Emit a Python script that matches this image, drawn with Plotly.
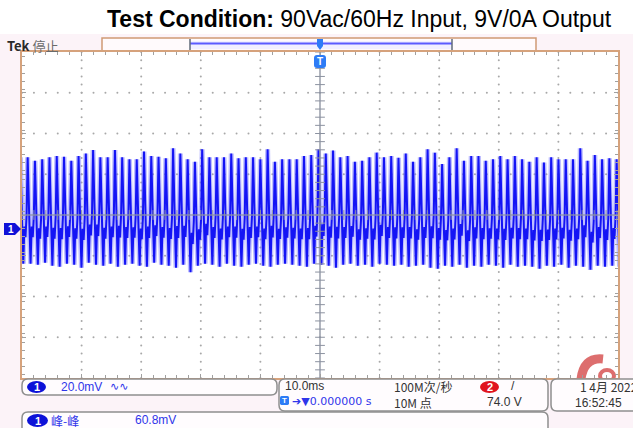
import plotly.graph_objects as go

W, H = 633, 428

# ---------------- data ----------------
# peak value of each ripple cycle, mV (82 cycles across the 100 ms screen)
peak_mv = [34.7, 33.0, 33.7, 34.7, 35.3, 35.0, 33.0, 35.3, 36.6, 38.3, 34.7, 34.7,
           38.3, 34.7, 33.7, 33.7, 37.5, 35.3, 35.0, 34.2, 39.1, 36.6, 33.7, 32.5,
           38.6, 34.7, 34.7, 34.7, 36.6, 34.2, 34.7, 34.7, 33.7, 38.6, 32.5, 33.7,
           33.7, 33.7, 35.3, 35.8, 38.6, 36.6, 38.0, 34.7, 35.3, 32.5, 33.0, 34.7,
           37.0, 34.7, 35.3, 34.5,
           36.6, 32.5, 34.7, 38.6, 37.0, 31.4, 34.7, 39.1, 33.0, 35.3, 35.3, 33.0,
           33.7, 35.3, 33.7, 35.3, 33.7, 32.5, 34.7, 32.1, 34.7, 33.7, 33.7, 33.7,
           39.1, 33.0, 35.8, 33.7, 34.2, 33.7]
# trough value of each ripple cycle, mV
trough_mv = [-17.5, -18.0, -17.0, -18.5, -19.0, -17.5, -18.0, -19.5, -17.0, -18.0, -18.5, -17.5,
             -19.0, -18.0, -17.5, -18.5, -19.0, -17.0, -18.0, -18.5, -19.5, -18.0, -21.7, -18.5,
             -17.5, -18.0, -19.0, -17.5, -18.5, -19.0, -18.0, -17.5, -18.5, -19.0, -18.0, -17.5,
             -18.0, -18.5, -19.0, -17.5, -18.0, -18.5, -19.5, -18.0, -17.5, -18.5, -18.0, -19.0,
             -17.5, -18.0, -18.5, -18.0,
             -19.0, -18.5, -18.0, -19.5, -20.0, -18.5, -19.0, -18.0, -19.5, -18.5, -19.0, -18.0,
             -18.5, -19.5, -18.0, -19.0, -18.5, -19.0, -20.0, -18.5, -19.0, -18.0, -19.5, -18.5,
             -19.0, -20.5, -18.5, -19.0, -18.5, -19.0]
first_peak_ms = -49.05   # time of the first visible peak
period_ms = 1.22         # ripple period
# shape of one ripple cycle: phase (fraction of period) and level (0 = trough, 1 = peak)
cycle_phase = [0.0, 0.12, 0.25, 0.40, 0.55, 0.70, 0.85]
cycle_level = [1.0, 0.55, 0.35, 0.0, 0.35, 0.25, 0.45]

mv_per_div = 20.0
ms_per_div = 10.0
centre_mv = 6.4          # value at the screen centre (ground marker sits below centre)

title_bold = "Test Condition:"
title_rest = " 90Vac/60Hz Input, 9V/0A Output"
ch1_scale = "20.0mV"
timebase = "10.0ms"
trig_pos = "0.000000 s"
sample_rate = "100M次/秒"
record_len = "10M 点"
trig_level = "74.0 V"
date_txt = "1 4月 2022"
time_txt = "16:52:45"
meas_name = "峰-峰"
meas_val = "60.8mV"

# ---------------- build trace ----------------
t, v = [], []
peaks_ext = [peak_mv[0]] + peak_mv
troughs_ext = [trough_mv[0]] + trough_mv
for k in range(-1, len(peak_mv)):
    P, Tr = peaks_ext[k + 1], troughs_ext[k + 1]
    t0 = first_peak_ms + k * period_ms
    for ph, lv in zip(cycle_phase, cycle_level):
        t.append(t0 + ph * period_ms)
        v.append(Tr + lv * (P - Tr))

xr = [-5 * ms_per_div, 5 * ms_per_div]
yr = [centre_mv - 4 * mv_per_div, centre_mv + 4 * mv_per_div]

# pixel helpers (margins are 0, so paper coords == figure fraction)
def px(x):
    return x / W

def py(y):
    return 1 - y / H

def rrect(x0, y0, x1, y1, r):
    pts = [("M", x0 + r, y0), ("L", x1 - r, y0), ("Q", x1, y0, x1, y0 + r),
           ("L", x1, y1 - r), ("Q", x1, y1, x1 - r, y1), ("L", x0 + r, y1),
           ("Q", x0, y1, x0, y1 - r), ("L", x0, y0 + r), ("Q", x0, y0, x0 + r, y0)]
    s = ""
    for p in pts:
        c = p[0]
        nums = p[1:]
        coords = []
        for i in range(0, len(nums), 2):
            coords.append(f"{px(nums[i]):.5f},{py(nums[i+1]):.5f}")
        s += c + " " + " ".join(coords) + " "
    return s + "Z"

def poly(points):
    s = "M " + " L ".join(f"{px(a):.5f},{py(b):.5f}" for a, b in points)
    return s + " Z"

fig = go.Figure()

# grid dots
gx, gy = [], []
for j in range(1, 8):
    yv = yr[0] + j * mv_per_div
    if j == 4:
        continue
    for i in range(0, 51):
        gx.append(xr[0] + i * ms_per_div / 5)
        gy.append(yv)
for i in range(1, 10):
    if i == 5:
        continue
    xv = xr[0] + i * ms_per_div
    for j in range(0, 41):
        gx.append(xv)
        gy.append(yr[0] + j * mv_per_div / 5)
fig.add_trace(go.Scatter(x=gx, y=gy, mode="markers", hoverinfo="skip",
                         marker=dict(size=2, color="#a8a8a8", line=dict(width=0))))

# waveform: soft halo + core
fig.add_trace(go.Scatter(x=t, y=v, mode="lines", hoverinfo="skip",
                         line=dict(color="rgba(110,110,255,0.45)", width=5)))
fig.add_trace(go.Scatter(x=t, y=v, mode="lines", hoverinfo="skip",
                         line=dict(color="#1414f5", width=2)))

# centre lines with tick marks
fig.add_trace(go.Scatter(x=[0, 0], y=yr, mode="lines", hoverinfo="skip",
                         line=dict(color="rgba(140,146,160,0.85)", width=1.6)))
fig.add_trace(go.Scatter(x=xr, y=[centre_mv, centre_mv], mode="lines", hoverinfo="skip",
                         line=dict(color="rgba(140,146,160,0.85)", width=1.6)))
fig.add_trace(go.Scatter(x=[0] * 41, y=[yr[0] + j * mv_per_div / 5 for j in range(41)],
                         mode="markers", hoverinfo="skip",
                         marker=dict(symbol="line-ew", size=7, line=dict(color="#8c92a0", width=1))))
fig.add_trace(go.Scatter(x=[xr[0] + i * ms_per_div / 5 for i in range(51)], y=[centre_mv] * 51,
                         mode="markers", hoverinfo="skip",
                         marker=dict(symbol="line-ns", size=7, line=dict(color="#8c92a0", width=1))))

border = "#d6a27c"
fig.update_xaxes(range=xr, domain=[px(22), px(618)], showgrid=False, zeroline=False,
                 showticklabels=False, showline=True, linecolor=border, linewidth=2,
                 mirror="allticks", ticks="inside", tick0=0, dtick=ms_per_div, ticklen=4,
                 tickcolor="#a0a0a0",
                 minor=dict(ticks="inside", dtick=ms_per_div / 5, ticklen=3, tickcolor="#a0a0a0"),
                 fixedrange=True)
fig.update_yaxes(range=yr, domain=[py(378), py(52)], showgrid=False, zeroline=False,
                 showticklabels=False, showline=True, linecolor=border, linewidth=2,
                 mirror="allticks", ticks="inside", tick0=centre_mv, dtick=mv_per_div, ticklen=4,
                 tickcolor="#a0a0a0",
                 minor=dict(ticks="inside", dtick=mv_per_div / 5, ticklen=3, tickcolor="#a0a0a0"),
                 fixedrange=True)

shapes = []
# white title band
shapes.append(dict(type="rect", xref="paper", yref="paper", x0=0, x1=1, y0=py(34), y1=1,
                   fillcolor="white", line=dict(width=0), layer="below"))
# record view bar
shapes.append(dict(type="rect", xref="paper", yref="paper", x0=px(102), x1=px(536),
                   y0=py(51), y1=py(38), fillcolor="#fffafc",
                   line=dict(color="#cf9a74", width=1.5), layer="below"))
shapes.append(dict(type="rect", xref="paper", yref="paper", x0=px(190), x1=px(452),
                   y0=py(49), y1=py(41), fillcolor="#f1f0ff", line=dict(width=0), layer="below"))
shapes.append(dict(type="line", xref="paper", yref="paper", x0=px(190), x1=px(452),
                   y0=py(43.5), y1=py(43.5), line=dict(color="#5b5bff", width=2)))
for xe in (190, 452):
    shapes.append(dict(type="line", xref="paper", yref="paper", x0=px(xe), x1=px(xe),
                       y0=py(50), y1=py(39), line=dict(color="#606a78", width=1.5)))
# trigger T in bar
shapes.append(dict(type="path", xref="paper", yref="paper",
                   path=poly([(317, 39), (323, 39), (323, 46), (320, 50), (317, 46)]),
                   fillcolor="#2d7cf6", line=dict(width=0)))
# trigger T marker below top border
shapes.append(dict(type="path", xref="paper", yref="paper",
                   path=rrect(314, 55, 326, 68, 3), fillcolor="#2d7cf6", line=dict(width=0)))
# channel 1 ground marker
shapes.append(dict(type="path", xref="paper", yref="paper",
                   path=poly([(4, 223), (15, 223), (21, 229), (15, 235), (4, 235)]),
                   fillcolor="#1010d8", line=dict(width=0)))
# status boxes
box_line = dict(color="#8e8e8e", width=1.5)
for (x0, y0, x1, y1) in [(22, 379, 277, 395), (279, 379, 548, 411),
                         (551, 379, 645, 411), (22, 412, 548, 436)]:
    shapes.append(dict(type="path", xref="paper", yref="paper", path=rrect(x0, y0, x1, y1, 6),
                       fillcolor="#fffcfe", line=box_line))
# badges
shapes.append(dict(type="circle", xref="paper", yref="paper", x0=px(27), x1=px(46),
                   y0=py(393), y1=py(381), fillcolor="#0d12d8", line=dict(width=0)))
shapes.append(dict(type="circle", xref="paper", yref="paper", x0=px(27), x1=px(48),
                   y0=py(427), y1=py(414), fillcolor="#0d12d8", line=dict(width=0)))
shapes.append(dict(type="circle", xref="paper", yref="paper", x0=px(480), x1=px(499),
                   y0=py(393), y1=py(381), fillcolor="#e0141e", line=dict(width=0)))
shapes.append(dict(type="path", xref="paper", yref="paper",
                   path=rrect(280, 396, 289, 405, 1.5), fillcolor="#2d7cf6", line=dict(width=0)))
# watermark arc (bottom right)
shapes.append(dict(type="path", xref="paper", yref="paper",
                   path=f"M {px(581):.5f},{py(379):.5f} Q {px(584):.5f},{py(357):.5f} {px(603):.5f},{py(359):.5f}",
                   line=dict(color="rgba(215,85,85,0.85)", width=9), layer="below"))
shapes.append(dict(type="circle", xref="paper", yref="paper", x0=px(600), x1=px(614),
                   y0=py(382), y1=py(370), line=dict(color="rgba(215,85,85,0.85)", width=4),
                   layer="below"))

SANS = "Liberation Sans, Arial, sans-serif"
CJK = "Noto Sans CJK SC, sans-serif"
BLUE = "#2f35ea"
DARK = "#333333"

ann = []
def text(x, y, s, size=12, color=DARK, family=SANS, xanchor="left"):
    ann.append(dict(x=px(x), y=py(y), xref="paper", yref="paper", text=s, showarrow=False,
                    xanchor=xanchor, yanchor="middle", font=dict(size=size, color=color, family=family)))

text(614, 19, f"<b>{title_bold}</b>{title_rest}", size=23, color="#000000", xanchor="right")
text(5, 45, "<b>Tek</b> <span style='color:#6a6a6a'>停止</span>", size=13, color="#2a2a2a", family=CJK)
text(320, 62, "<b>T</b>", size=10, color="white", xanchor="center")
text(11, 229, "<b>1</b>", size=10, color="white", xanchor="center")
text(36.5, 387, "<b>1</b>", size=11, color="white", xanchor="center")
text(59, 387, ch1_scale, size=12, color=BLUE)
text(108, 386, "∿∿", size=11, color=BLUE, family="DejaVu Sans")
text(283, 386, timebase, size=12)
text(284.5, 400.5, "<b>T</b>", size=8, color="white", xanchor="center")
text(290, 401, "➔▼" + trig_pos, size=11, color=BLUE, family="DejaVu Sans")
text(392, 386, sample_rate, size=12, family=CJK)
text(392, 402, record_len, size=12, family=CJK)
text(489.5, 387, "<b>2</b>", size=11, color="white", xanchor="center")
text(509, 386, "/", size=12)
text(485, 402, trig_level, size=12)
text(578, 386, date_txt, size=12, family=CJK)
text(573, 403, time_txt, size=12)
text(37.5, 420.5, "<b>1</b>", size=11, color="white", xanchor="center")
text(49, 420, meas_name, size=12, color=BLUE, family=CJK)
text(133, 420, meas_val, size=12, color=BLUE)

fig.update_layout(width=W, height=H, margin=dict(l=0, r=0, t=0, b=0),
                  paper_bgcolor="#fcf3f8", plot_bgcolor="white", showlegend=False,
                  shapes=shapes, annotations=ann)

fig.write_html("out.html", config={"displayModeBar": False},
               post_script="document.body.style.margin='0';document.body.style.overflow='hidden';")
